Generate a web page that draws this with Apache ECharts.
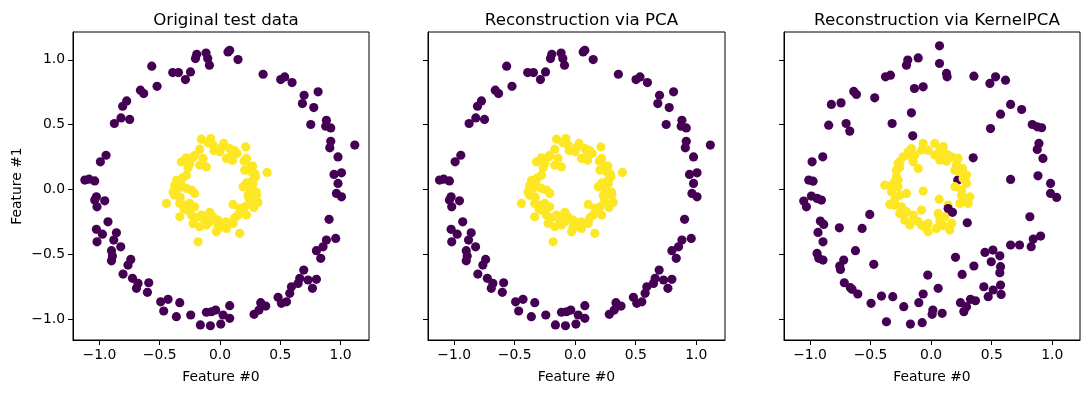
<!DOCTYPE html>
<html>
<head>
<meta charset="utf-8">
<script src="https://cdn.jsdelivr.net/npm/echarts@6/dist/echarts.min.js"></script>
<style>html,body{margin:0;padding:0;background:#fff}#c{width:1090px;height:393px}</style>
</head>
<body>
<div id="c"></div>
<script>
// ---- Data ----
const titles = ["Original test data", "Reconstruction via PCA", "Reconstruction via KernelPCA"];
const tickValues = [-1.0, -0.5, 0.0, 0.5, 1.0];
const xLabel = "Feature #0";
const yLabel = "Feature #1";

// Original test data, class 0 (outer ring)
const origOuter = [
[-0.193,1.043],[-0.204,1.010],[-0.116,1.053],[-0.102,1.010],[-0.088,0.959],[-0.566,0.951],
[-0.392,0.902],[-0.345,0.902],[-0.245,0.907],[-0.287,0.848],[-0.522,0.796],[-0.660,0.766],
[-0.633,0.740],[-0.774,0.683],[-0.807,0.642],[-0.821,0.552],[-0.876,0.509],[-0.749,0.540],
[-0.945,0.264],[-0.992,0.213],[-1.121,0.072],[-1.086,0.079],[-1.039,0.066],
[0.066,1.061],[0.080,1.074],[0.149,1.002],[0.357,0.889],[0.503,0.848],[0.536,0.868],
[0.597,0.825],[0.697,0.727],[0.683,0.663],[0.813,0.753],[0.777,0.632],[0.752,0.501],
[0.882,0.534],[0.876,0.488],[0.918,0.475],[0.918,0.372],[0.910,0.321],[1.117,0.342],
[0.978,0.251],[0.945,0.116],[1.007,0.128],[0.978,0.046],[0.965,-0.031],[1.007,-0.057],
[-1.025,-0.057],[-1.039,-0.082],[-0.956,-0.088],[-1.020,-0.134],[-0.929,-0.250],
[-1.025,-0.308],[-0.975,-0.345],[-1.020,-0.404],[-0.859,-0.335],[-0.881,-0.391],
[-0.823,-0.443],[-0.900,-0.473],[-0.892,-0.514],[-0.900,-0.551],[-0.740,-0.540],
[-0.763,-0.584],[-0.804,-0.653],[-0.726,-0.686],[-0.680,-0.725],[-0.693,-0.763],
[-0.591,-0.720],[-0.602,-0.794],[-0.492,-0.867],[-0.431,-0.848],[-0.467,-0.938],
[-0.334,-0.874],[-0.362,-0.982],[-0.243,-0.969],[-0.113,-0.948],[-0.071,-0.944],
[-0.036,-0.931],[-0.163,-1.046],[-0.080,-1.052],[0.006,-1.039],[0.025,-0.969],
[0.080,-0.897],[0.080,-0.995],[0.282,-0.964],[0.323,-0.931],[0.337,-0.874],[0.379,-0.900],
[0.481,-0.833],[0.509,-0.879],[0.551,-0.867],[0.578,-0.802],[0.592,-0.751],[0.647,-0.725],
[0.661,-0.686],[0.694,-0.622],[0.730,-0.699],[0.766,-0.763],[0.799,-0.694],[0.799,-0.473],
[0.835,-0.532],[0.854,-0.443],[0.882,-0.391],[0.959,-0.378],[0.904,-0.231]
];
// Original test data, class 1 (inner ring)
const origInner = [
[-0.154,0.388],[-0.077,0.393],[0.031,0.355],[0.080,0.316],[0.141,0.278],[0.213,0.328],
[-0.058,0.342],[-0.002,0.290],[0.053,0.239],[0.103,0.226],[-0.168,0.311],[-0.210,0.264],
[-0.279,0.244],[-0.320,0.213],[-0.141,0.239],[-0.113,0.174],[-0.168,0.187],[0.219,0.239],
[0.205,0.149],[0.260,0.136],[0.296,0.097],[0.390,0.131],[0.274,0.046],[0.191,0.020],
[0.246,0.008],[-0.279,0.110],[-0.265,0.167],[-0.376,0.033],[-0.390,-0.019],[-0.348,0.008],
[-0.279,0.008],[-0.237,-0.005],[-0.210,-0.031],[-0.444,-0.108],[-0.376,-0.044],
[-0.334,-0.108],[-0.293,-0.121],[-0.251,-0.108],[-0.210,-0.134],[0.232,-0.044],
[0.302,-0.044],[0.315,-0.100],[0.246,-0.100],[0.205,-0.134],[0.108,-0.116],[0.163,-0.146],
[0.219,-0.198],[0.149,-0.198],[-0.334,-0.211],[-0.237,-0.198],[-0.154,-0.198],
[-0.085,-0.177],[-0.224,-0.262],[-0.168,-0.288],[-0.085,-0.250],[-0.017,-0.237],
[-0.017,-0.288],[0.053,-0.301],[0.108,-0.262],[0.163,-0.339],[-0.030,-0.327],
[-0.113,-0.275],[-0.182,-0.404],
[0.27,0.18],[0.29,0.12],[0.22,0.05],[0.30,-0.02],[-0.36,0.07],[-0.32,0.03],[-0.30,-0.15],
[-0.20,-0.22],[0.05,-0.25],[0.12,-0.22],[-0.05,0.30],[0.10,0.28],[0.20,0.22],[-0.22,0.25],[0.28,-0.14],
[0.25,0.18],[0.27,0.07],[0.24,-0.07],[0.18,-0.17],[0.02,-0.29],[-0.06,-0.21],[-0.13,-0.23],
[-0.27,-0.16],[-0.33,-0.06],[-0.31,0.09],[-0.25,0.20],[-0.10,0.36],[0.01,0.32],[0.12,0.30]
];

// PCA reconstruction (all components kept: identical to the original)
const pcaOuter = origOuter;
const pcaInner = origInner;

// KernelPCA reconstruction, class 0
const kpcaOuter = [
[0.069,1.108],[-0.193,0.999],[-0.204,0.959],[-0.107,1.015],[0.069,0.972],[0.127,0.895],
[0.132,0.869],[-0.377,0.869],[-0.336,0.882],[0.353,0.874],[0.485,0.818],[0.532,0.869],
[0.614,0.843],[-0.138,0.779],[-0.066,0.792],[-0.639,0.756],[-0.617,0.733],[-0.466,0.707],
[-0.824,0.656],[-0.744,0.668],[0.656,0.656],[0.747,0.617],[-0.163,0.591],[0.573,0.581],
[-0.846,0.496],[-0.702,0.509],[-0.672,0.450],[-0.322,0.509],[0.835,0.501],[0.876,0.483],
[0.912,0.476],[0.490,0.470],[-0.152,0.414],[0.890,0.355],[0.876,0.308],[-0.895,0.252],
[-0.983,0.213],[0.347,0.244],[0.923,0.239],[-1.011,0.072],[-0.975,0.064],[0.656,0.077],
[0.882,0.105],[0.986,0.046],[0.220,0.072],[-1.052,-0.090],[-1.030,-0.134],[-0.989,-0.051],
[-0.942,-0.069],[-0.906,-0.082],[0.986,-0.031],[1.036,-0.062],[-0.507,-0.193],
[0.815,-0.211],[0.298,-0.257],[-0.915,-0.244],[-0.887,-0.270],[-0.758,-0.296],
[-0.570,-0.301],[-0.934,-0.332],[-0.893,-0.404],[0.904,-0.360],[0.843,-0.383],
[0.826,-0.442],[0.656,-0.429],[0.730,-0.429],[-0.942,-0.494],[-0.928,-0.532],
[-0.893,-0.545],[-0.625,-0.473],[0.444,-0.486],[0.510,-0.468],[0.567,-0.512],
[-0.722,-0.545],[-0.755,-0.591],[-0.749,-0.617],[-0.474,-0.578],[0.201,-0.524],
[0.496,-0.558],[0.573,-0.596],[0.567,-0.643],[0.353,-0.591],[0.256,-0.656],[-0.028,-0.661],
[-0.717,-0.720],[-0.667,-0.758],[-0.653,-0.771],[0.573,-0.738],[0.435,-0.751],[0.058,-0.763],
[-0.606,-0.807],[-0.410,-0.823],[-0.317,-0.828],[-0.066,-0.807],[0.512,-0.776],
[0.471,-0.828],[0.578,-0.810],[-0.496,-0.879],[-0.102,-0.874],[-0.226,-0.905],
[0.325,-0.848],[0.366,-0.859],[0.242,-0.874],[0.292,-0.905],[0.270,-0.943],[0.014,-0.931],
[0.091,-0.956],[0.008,-0.964],[-0.369,-1.021],[-0.171,-1.039],[-0.074,-1.028]
];
// KernelPCA class 0 points drawn above the inner ring
const kpcaOuterTop = [[0.140,-0.147],[0.176,-0.177]];
// KernelPCA reconstruction, class 1
const kpcaInner = [
[-0.066,0.355],[0.030,0.355],[-0.163,0.316],[-0.080,0.303],[-0.025,0.303],[0.072,0.303],
[0.113,0.278],[0.140,0.265],[0.072,0.252],[0.030,0.265],[-0.231,0.252],[-0.190,0.265],
[-0.135,0.265],[0.223,0.239],[0.072,0.226],[0.127,0.219],[-0.273,0.201],[-0.259,0.213],
[-0.149,0.213],[-0.107,0.162],[-0.287,0.149],[0.196,0.149],[0.237,0.136],[0.292,0.111],
[0.264,0.085],[0.292,0.046],[-0.287,0.098],[-0.273,0.072],[-0.383,0.033],[-0.328,0.033],
[-0.273,0.021],[0.196,0.021],[0.251,-0.005],[-0.066,-0.013],[-0.204,-0.031],[-0.259,-0.044],
[-0.328,-0.018],[0.251,-0.044],[0.320,-0.057],[0.306,-0.108],[0.066,-0.075],[-0.342,-0.116],
[-0.300,-0.121],[-0.245,-0.134],[0.237,-0.108],[-0.259,-0.185],[-0.204,-0.172],
[-0.149,-0.198],[-0.080,-0.159],[0.058,-0.185],[0.072,-0.224],[0.113,-0.211],
[-0.218,-0.237],[-0.176,-0.275],[-0.107,-0.249],[-0.025,-0.262],[-0.025,-0.326],
[0.044,-0.301],[0.072,-0.249],[0.154,-0.314],[-0.080,-0.275],[0.140,-0.121],
[0.21,0.19],[0.26,0.16],[0.28,0.08],[0.27,-0.08],[0.17,-0.26],[-0.05,-0.29],[-0.30,-0.08],
[-0.30,0.06],[-0.26,0.17],[-0.19,0.29],[0.10,0.33],[0.17,0.25],[-0.14,-0.23],[0.10,-0.28]
];

const xRanges = [[-1.219, 1.235], [-1.216, 1.238], [-1.215, 1.229]];
const yRange = [-1.162, 1.215];

// ---- Chart ----
const PURPLE = '#440154', YELLOW = '#fde725';
const FONT = 'DejaVu Sans';
const grids = [
  {left: 73, top: 32, width: 296, height: 308},
  {left: 428, top: 32, width: 297, height: 308},
  {left: 784, top: 32, width: 296, height: 308}
];
const fmt = v => (v < 0 ? '\u2212' : '') + Math.abs(v).toFixed(1);

const xAxis = grids.map((g, i) => ({
  gridIndex: i, type: 'value', min: xRanges[i][0], max: xRanges[i][1],
  splitLine: {show: false},
  axisLine: {show: true, onZero: false, lineStyle: {color: '#000', width: 1}},
  axisTick: {show: true, customValues: tickValues, length: 5, lineStyle: {color: '#000'}},
  axisLabel: {show: true, customValues: tickValues, formatter: fmt, margin: 8,
    color: '#000', fontSize: 13.9, fontFamily: FONT},
  name: xLabel, nameLocation: 'middle', nameGap: 30,
  nameTextStyle: {color: '#000', fontSize: 13.9, fontFamily: FONT}
}));
const yAxis = grids.map((g, i) => ({
  gridIndex: i, type: 'value', min: yRange[0], max: yRange[1],
  splitLine: {show: false},
  axisLine: {show: true, onZero: false, lineStyle: {color: '#000', width: 1}},
  axisTick: {show: true, customValues: tickValues, length: 5, lineStyle: {color: '#000'}},
  axisLabel: {show: i === 0, customValues: tickValues, formatter: fmt, margin: 8,
    color: '#000', fontSize: 13.9, fontFamily: FONT},
  name: i === 0 ? yLabel : '', nameLocation: 'middle', nameGap: 49,
  nameTextStyle: {color: '#000', fontSize: 13.9, fontFamily: FONT}
}));

const sc = (i, data, color) => ({
  type: 'scatter', xAxisIndex: i, yAxisIndex: i, data: data,
  symbol: 'circle', symbolSize: 9.2, itemStyle: {color: color, opacity: 1},
  emphasis: {disabled: true}, animation: false, silent: true
});

const option = {
  animation: false,
  backgroundColor: '#fff',
  title: grids.map((g, i) => ({
    text: titles[i], left: g.left + g.width / 2, top: 7, textAlign: 'center',
    textStyle: {color: '#000', fontSize: 16.7, fontWeight: 'normal', fontFamily: FONT}
  })),
  grid: grids.map(g => Object.assign({show: true, borderColor: '#000', borderWidth: 1,
    backgroundColor: 'transparent'}, g)),
  xAxis: xAxis,
  yAxis: yAxis,
  series: [
    sc(0, origOuter, PURPLE), sc(0, origInner, YELLOW),
    sc(1, pcaOuter, PURPLE), sc(1, pcaInner, YELLOW),
    sc(2, kpcaOuter, PURPLE), sc(2, kpcaInner, YELLOW), sc(2, kpcaOuterTop, PURPLE)
  ]
};
const chart = echarts.init(document.getElementById('c'), null, {renderer: 'canvas'});
chart.setOption(option);
</script>
</body>
</html>
